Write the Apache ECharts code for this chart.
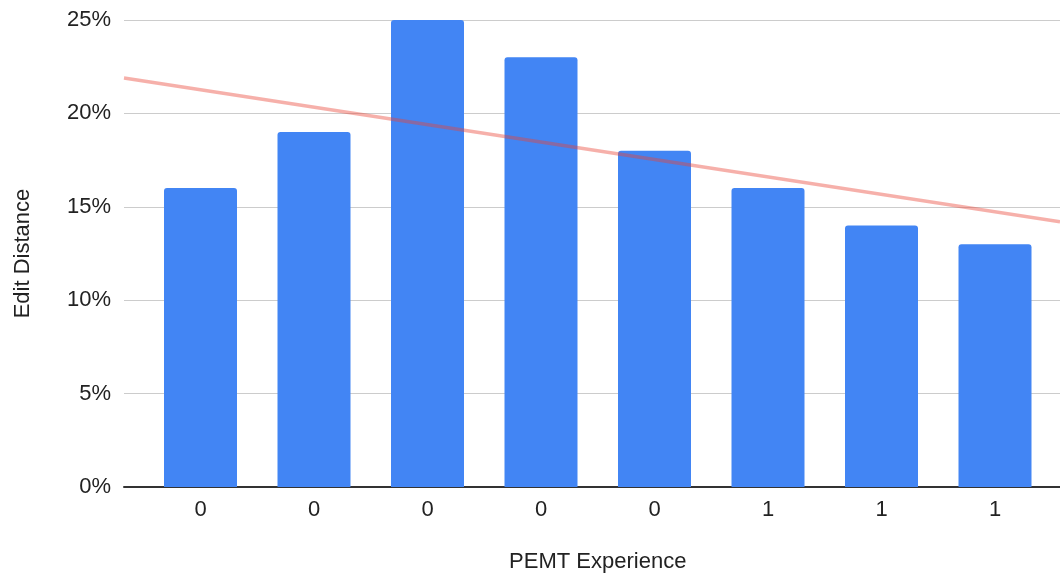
<!DOCTYPE html>
<html>
<head>
<meta charset="utf-8">
<style>
  html, body { margin: 0; padding: 0; background: #fff; }
  #chart { width: 1060px; height: 575px; }
</style>
<script src="https://cdn.jsdelivr.net/npm/echarts@6/dist/echarts.min.js"></script>
</head>
<body>
<div id="chart"></div>
<script>
// PEMT experience per participant and the share of edits made
const categories = ['0', '0', '0', '0', '0', '1', '1', '1'];
const editDistance = [16, 19, 25, 23, 18, 16, 14, 13];
// Linear trend line, value at the left and right edge of the plot
const trendEdges = [21.9, 14.2];
const yTicks = { min: 0, max: 25, interval: 5 };

const FONT = '"Liberation Sans", Arial, sans-serif';
const chart = echarts.init(document.getElementById('chart'), null, { renderer: 'canvas' });

chart.setOption({
  animation: false,
  textStyle: { fontFamily: FONT },
  grid: [
    // full-width plot frame: gridlines, baseline, trend line
    { left: 124, right: 0, top: 20, bottom: 88, outerBoundsMode: 'none' },
    // inset band area for the bars
    { left: 143.75, right: 8.25, top: 20, bottom: 88, outerBoundsMode: 'none' }
  ],
  xAxis: [
    {
      type: 'value', gridIndex: 0, min: 0, max: 1,
      axisLine: { show: true, onZero: false, lineStyle: { color: '#333', width: 2 } },
      axisTick: { show: false }, axisLabel: { show: false }, splitLine: { show: false }
    },
    {
      type: 'category', gridIndex: 1, data: categories,
      axisLine: { show: false }, axisTick: { show: false },
      axisLabel: { color: '#222', fontSize: 22, fontFamily: FONT, margin: 12 },
      name: 'PEMT Experience', nameLocation: 'middle', nameGap: 64,
      nameTextStyle: { color: '#222', fontSize: 22, fontFamily: FONT }
    }
  ],
  yAxis: [
    {
      type: 'value', gridIndex: 0, min: yTicks.min, max: yTicks.max, interval: yTicks.interval,
      axisLine: { show: false }, axisTick: { show: false },
      axisLabel: { color: '#222', fontSize: 22, fontFamily: FONT, margin: 13, formatter: '{value}%' },
      splitLine: { lineStyle: { color: '#cccccc', width: 1 } },
      name: 'Edit Distance', nameLocation: 'middle', nameGap: 90,
      nameTextStyle: { color: '#222', fontSize: 22, fontFamily: FONT }
    },
    {
      type: 'value', gridIndex: 1, min: yTicks.min, max: yTicks.max, interval: yTicks.interval,
      show: false
    }
  ],
  series: [
    {
      type: 'bar', xAxisIndex: 1, yAxisIndex: 1, data: editDistance,
      barWidth: 73,
      itemStyle: { color: '#4285F4', borderRadius: [3, 3, 0, 0] },
      z: 2
    },
    {
      type: 'line', xAxisIndex: 0, yAxisIndex: 0,
      data: [[0, trendEdges[0]], [1, trendEdges[1]]],
      symbol: 'none',
      lineStyle: { color: 'rgba(234, 67, 53, 0.42)', width: 3.5 },
      z: 3
    }
  ]
});
</script>
</body>
</html>
